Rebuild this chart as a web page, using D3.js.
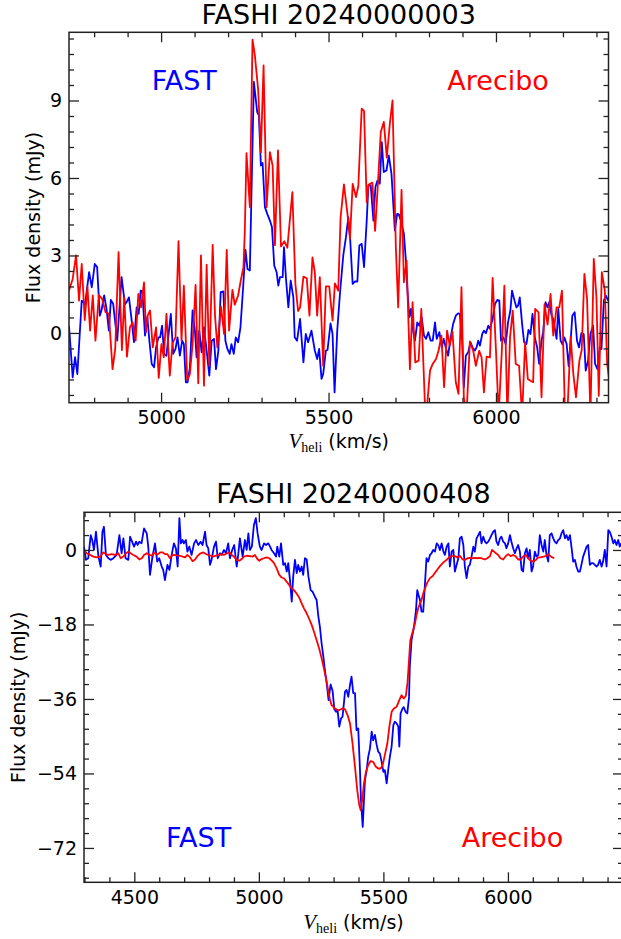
<!DOCTYPE html>
<html>
<head>
<meta charset="utf-8">
<script src="https://cdn.jsdelivr.net/npm/d3@7"></script>
<style>
  body { margin: 0; background: #fff; }
  svg text { font-family: "DejaVu Sans", sans-serif; }
</style>
</head>
<body>
<svg id="fig" width="621" height="939"></svg>
<script>
// FASHI 20240000003 : [velocity km/s, flux mJy]
var fast003 = [[4725,0.28],[4736,-1.72],[4743,-0.94],[4750,-1.59],[4763,1.25],[4773,1.12],[4785,2.35],[4793,1.77],[4802,2.67],[4809,2.55],[4817,0.67],[4822,0.87],[4830,1.45],[4837,0.93],[4844,0.09],[4850,1.28],[4857,1.12],[4869,-0.30],[4882,2.16],[4892,1.12],[4897,1.19],[4904,1.38],[4911,0.61],[4919,-0.36],[4927,0.99],[4933,0.74],[4939,1.64],[4944,1.61],[4952,-0.10],[4959,0.61],[4965,-0.30],[4972,-1.20],[4979,-1.33],[4985,-0.56],[4992,-0.17],[4997,-0.17],[5003,0.28],[5009,-0.81],[5016,-0.88],[5023,0.03],[5029,0.74],[5036,-0.81],[5043,-0.62],[5049,-0.17],[5056,-0.88],[5063,-0.30],[5068,-0.43],[5074,-1.91],[5079,-1.91],[5086,-1.33],[5094,0.87],[5101,0.09],[5106,-0.94],[5114,0.09],[5121,-0.75],[5128,0.22],[5136,-0.68],[5144,-1.65],[5151,-0.30],[5158,-0.23],[5164,-1.40],[5171,-0.68],[5178,1.58],[5186,1.61],[5192,-0.30],[5198,-0.62],[5205,-0.81],[5210,-0.43],[5217,-0.81],[5223,-0.17],[5230,-0.36],[5237,0.22],[5245,1.77],[5252,3.22],[5258,2.48],[5265,2.42],[5277,9.72],[5287,8.55],[5292,8.42],[5298,6.48],[5303,6.58],[5310,4.87],[5317,4.61],[5325,4.35],[5331,4.10],[5338,2.60],[5345,2.35],[5350,1.83],[5355,2.16],[5363,2.16],[5367,3.32],[5373,2.09],[5380,0.99],[5387,2.03],[5395,1.38],[5399,-0.17],[5406,-0.30],[5415,0.54],[5425,-1.14],[5432,-0.04],[5439,-0.36],[5449,0.09],[5459,-0.68],[5466,-1.01],[5472,-0.62],[5479,-1.78],[5484,-1.59],[5492,-0.68],[5497,-0.66],[5506,0.37],[5512,-0.04],[5518,-2.30],[5526,0.09],[5534,1.51],[5544,3.00],[5552,3.71],[5559,4.48],[5564,3.77],[5572,1.90],[5579,2.00],[5586,1.99],[5592,3.39],[5599,3.45],[5606,2.55],[5614,4.35],[5619,5.71],[5626,5.71],[5634,4.35],[5640,5.65],[5646,5.90],[5653,5.78],[5659,7.39],[5665,6.23],[5673,6.29],[5680,6.87],[5688,6.16],[5698,3.97],[5705,4.61],[5710,4.59],[5716,4.35],[5725,3.84],[5731,2.80],[5735,1.77],[5741,0.61],[5746,0.93],[5753,0.03],[5758,-0.30],[5765,0.41],[5771,0.28],[5778,0.61],[5785,-0.10],[5791,-0.23],[5798,0.03],[5805,-0.30],[5811,-0.30],[5818,0.41],[5823,-0.23],[5831,0.03],[5838,-0.56],[5844,-0.23],[5850,-0.56],[5857,-0.88],[5864,-0.23],[5872,0.35],[5880,0.67],[5887,0.76],[5892,0.74],[5899,-0.30],[5904,-2.11],[5910,-0.88],[5917,-0.75],[5924,-0.36],[5930,-0.56],[5937,-0.68],[5942,-0.56],[5947,-0.30],[5952,-0.49],[5959,-0.04],[5964,0.09],[5970,-0.01],[5977,0.28],[5982,0.16],[5990,0.54],[5997,1.12],[6004,1.28],[6010,1.25],[6015,-0.30],[6022,-0.17],[6029,-0.43],[6036,0.41],[6043,0.87],[6048,1.64],[6054,1.32],[6061,0.99],[6066,1.06],[6071,1.38],[6078,0.35],[6084,-0.36],[6091,-0.43],[6097,0.12],[6103,-0.04],[6109,0.74],[6116,-0.17],[6123,-0.56],[6129,-1.20],[6136,-0.30],[6141,0.03],[6148,1.19],[6154,0.99],[6159,1.19],[6166,0.67],[6171,0.54],[6176,0.16],[6181,-0.23],[6186,0.93],[6193,-0.30],[6199,-0.45],[6204,-0.17],[6211,-0.43],[6217,-1.29],[6223,-0.30],[6228,0.67],[6235,0.80],[6242,-0.30],[6248,-0.56],[6255,-0.01],[6262,-0.04],[6268,-1.46],[6275,-1.07],[6282,-0.04],[6290,0.28],[6296,-1.20],[6303,-1.40],[6310,-0.56],[6315,-0.62],[6322,1.25],[6328,1.45],[6335,1.25]];

var arecibo003 = [[4725,1.64],[4736,2.09],[4746,3.00],[4755,1.25],[4763,2.67],[4772,0.50],[4780,1.80],[4788,0.09],[4796,1.45],[4804,-0.30],[4814,1.47],[4824,1.32],[4834,0.80],[4844,0.74],[4855,-1.40],[4863,-0.62],[4873,3.13],[4883,-0.66],[4890,1.38],[4898,-0.92],[4907,0.22],[4915,0.41],[4924,-0.30],[4932,1.51],[4940,0.99],[4949,1.96],[4955,0.03],[4960,0.67],[4967,0.87],[4975,-0.56],[4985,0.22],[4993,-1.74],[5001,-0.43],[5008,-0.94],[5016,0.74],[5026,-1.65],[5034,-0.40],[5043,-0.17],[5052,3.55],[5061,-0.30],[5068,1.83],[5078,-1.82],[5086,-1.59],[5094,-0.43],[5103,1.86],[5111,-1.95],[5119,3.00],[5128,-2.04],[5136,2.64],[5144,-1.27],[5154,3.41],[5161,0.67],[5168,-0.56],[5179,1.02],[5188,-0.04],[5196,3.22],[5203,0.09],[5213,1.67],[5220,1.09],[5230,1.45],[5238,2.03],[5246,2.55],[5250,3.96],[5255,6.96],[5265,4.87],[5273,11.36],[5280,10.75],[5290,9.39],[5298,7.00],[5306,10.36],[5315,4.87],[5325,7.00],[5333,6.48],[5340,3.40],[5349,7.07],[5358,3.35],[5368,3.55],[5377,3.30],[5392,5.45],[5401,1.90],[5409,0.85],[5415,0.99],[5425,2.18],[5435,2.12],[5443,0.67],[5452,2.93],[5459,2.35],[5466,0.67],[5474,2.16],[5484,-1.27],[5492,1.80],[5502,1.80],[5512,0.48],[5519,1.92],[5529,1.64],[5536,4.48],[5546,5.75],[5556,4.67],[5564,3.64],[5572,5.77],[5582,5.26],[5589,5.70],[5599,8.68],[5606,8.60],[5614,5.06],[5620,5.75],[5631,5.82],[5639,3.95],[5648,5.90],[5656,7.78],[5665,8.17],[5674,6.79],[5683,8.10],[5691,9.00],[5701,3.30],[5708,0.99],[5718,5.54],[5725,1.96],[5733,2.80],[5743,-1.40],[5751,1.19],[5759,-1.14],[5769,-1.07],[5777,0.93],[5790,-3.50],[5803,-1.46],[5811,-1.20],[5821,-1.01],[5829,-0.66],[5837,-0.10],[5845,-2.10],[5854,0.09],[5862,-0.49],[5870,0.05],[5880,-1.91],[5888,-2.36],[5897,1.77],[5904,-2.49],[5912,-3.20],[5922,-0.33],[5932,-0.69],[5940,-1.27],[5950,-0.69],[5957,-0.95],[5964,-2.30],[5972,-0.92],[5982,-0.95],[5990,2.13],[6000,-0.69],[6008,-3.20],[6017,-0.82],[6025,1.83],[6034,-3.20],[6042,-0.17],[6050,0.86],[6059,-1.20],[6069,-1.27],[6078,-3.20],[6087,-0.36],[6095,-1.78],[6103,-1.85],[6111,-1.91],[6117,0.93],[6127,0.80],[6136,-2.49],[6145,1.12],[6154,0.32],[6163,1.51],[6171,-0.10],[6181,0.99],[6189,0.99],[6197,1.64],[6206,-3.20],[6213,-3.20],[6223,-0.15],[6231,-1.59],[6239,-2.49],[6249,-1.07],[6256,-0.66],[6264,2.29],[6272,1.32],[6282,-3.20],[6292,2.87],[6300,1.38],[6307,-2.43],[6316,2.35],[6325,1.64],[6332,-1.20],[6340,-2.00]];

// FASHI 20240000408 : [velocity km/s, flux mJy]
var fast408 = [[4298,0.8],[4306,-2.4],[4315,-2.0],[4325,3.6],[4331,2.4],[4338,0],[4346,4.4],[4356,-1.6],[4365,-4.0],[4372,4.4],[4378,5.6],[4386,-1.2],[4396,-2.0],[4405,-2.4],[4416,-2.0],[4429,-1.2],[4440,3.6],[4449,-0.8],[4456,2.8],[4465,-2.0],[4476,-2.4],[4483,3.2],[4491,2.0],[4499,0.8],[4507,2.0],[4513,1.2],[4520,2.0],[4529,1.6],[4539,5.2],[4550,4.0],[4556,0.8],[4563,-6.0],[4572,-2.0],[4583,1.6],[4592,-2.8],[4600,-2.0],[4610,-4.0],[4616,-4.8],[4623,-7.3],[4633,-3.6],[4641,-4.8],[4650,-1.2],[4659,1.6],[4667,0.4],[4674,-4.0],[4681,7.7],[4687,1.6],[4694,2.4],[4699,1.6],[4707,2.4],[4713,-0.4],[4721,0.8],[4730,-1.2],[4740,1.6],[4748,2.4],[4757,1.2],[4766,2.0],[4774,1.2],[4784,4.4],[4790,1.2],[4797,0.4],[4804,-3.6],[4810,-2.4],[4820,0.8],[4828,2.0],[4835,-2.0],[4844,-0.8],[4851,-1.2],[4860,0],[4868,-0.8],[4877,1.6],[4884,-2.0],[4893,0],[4901,1.2],[4911,-4.0],[4917,-1.2],[4924,2.8],[4935,-1.6],[4944,2.4],[4951,0],[4958,4.0],[4964,0],[4972,0.8],[4980,6.0],[4988,7.7],[4995,4.0],[5004,0.8],[5011,0],[5021,1.6],[5029,1.2],[5038,1.6],[5045,0.8],[5051,0],[5061,-0.8],[5069,-1.6],[5074,0.8],[5082,-1.6],[5089,1.6],[5098,-3.6],[5105,-3.2],[5112,-5.2],[5118,-3.2],[5125,-7.3],[5132,-12.5],[5138,-6.4],[5145,-2.4],[5152,-5.6],[5158,-3.6],[5165,-5.2],[5172,-4.0],[5178,-6.0],[5185,-2.0],[5192,-2.3],[5199,-6.4],[5208,-9.7],[5216,-10.1],[5225,-11.3],[5232,-12.1],[5239,-16.1],[5245,-18.5],[5252,-22.6],[5259,-25.8],[5265,-29.0],[5272,-32.0],[5280,-36.3],[5288,-32.5],[5296,-34.0],[5303,-38.5],[5310,-39.1],[5316,-38.7],[5323,-42.7],[5330,-40.7],[5336,-40.3],[5342,-36.7],[5346,-34.2],[5352,-33.8],[5359,-35.5],[5366,-32.6],[5372,-30.6],[5379,-34.6],[5386,-34.6],[5392,-43.5],[5399,-43.1],[5406,-53.2],[5410,-60.4],[5417,-66.9],[5422,-60.4],[5426,-55.6],[5433,-53.2],[5439,-50.0],[5446,-48.0],[5453,-43.9],[5459,-46.0],[5466,-44.7],[5473,-47.1],[5479,-48.7],[5486,-49.2],[5493,-51.2],[5500,-53.6],[5506,-53.2],[5513,-56.4],[5520,-52.8],[5526,-50.0],[5533,-47.5],[5540,-42.3],[5546,-41.5],[5553,-41.9],[5560,-42.7],[5564,-47.5],[5569,-39.5],[5577,-38.3],[5582,-38.0],[5589,-39.1],[5596,-39.5],[5603,-35.5],[5606,-28.2],[5613,-21.8],[5623,-18.5],[5631,-14.5],[5636,-9.7],[5641,-10.9],[5647,-12.1],[5653,-14.9],[5660,-14.9],[5667,-8.1],[5673,-2.0],[5680,-2.8],[5687,-1.2],[5693,-0.8],[5700,0],[5707,-0.4],[5714,1.6],[5720,1.2],[5727,0],[5734,1.6],[5741,-0.4],[5747,-1.2],[5754,0.8],[5761,1.6],[5767,-4.0],[5774,-0.4],[5781,0],[5787,-5.2],[5794,-3.6],[5801,-2.0],[5807,2.8],[5814,3.2],[5821,1.2],[5827,-4.0],[5834,-6.8],[5841,-4.0],[5847,-3.6],[5854,-1.6],[5861,0.8],[5867,-0.4],[5874,2.8],[5881,3.6],[5888,4.4],[5894,1.6],[5901,3.2],[5908,2.0],[5914,1.6],[5921,2.0],[5928,2.8],[5934,3.6],[5941,4.4],[5948,4.8],[5954,2.0],[5961,1.2],[5968,2.8],[5974,3.2],[5981,2.0],[5988,1.6],[5994,0.4],[6001,1.6],[6008,3.6],[6014,2.0],[6021,0.4],[6028,-0.8],[6035,0.4],[6041,1.2],[6048,-0.4],[6055,-4.8],[6061,-5.2],[6068,-0.8],[6075,0.4],[6081,-2.0],[6088,0],[6095,-5.2],[6101,-4.0],[6108,-0.4],[6115,-1.6],[6122,-1.2],[6128,3.6],[6135,1.2],[6142,-0.4],[6148,2.4],[6155,-1.2],[6162,-2.8],[6168,3.6],[6175,4.0],[6182,2.8],[6188,2.0],[6195,1.6],[6202,2.4],[6209,2.8],[6215,4.0],[6222,4.8],[6229,2.8],[6235,3.6],[6242,2.4],[6249,3.6],[6255,0.8],[6262,-2.8],[6269,-2.4],[6275,-4.0],[6282,-5.2],[6289,-5.2],[6295,-3.6],[6302,-1.6],[6309,-0.4],[6316,0.8],[6322,1.2],[6329,-3.6],[6336,-3.2],[6342,-3.2],[6349,-3.6],[6356,-4.0],[6362,-3.6],[6369,-2.4],[6376,-4.0],[6382,-2.8],[6389,0],[6396,-4.0],[6403,4.8],[6409,4.4],[6416,3.2],[6423,1.6],[6429,2.4],[6436,1.2],[6443,2.4],[6449,0.8],[6455,1.6],[6465,1.0]];

var arecibo408 = [[4298,0],[4309,-0.8],[4322,-1.2],[4336,-1.6],[4349,-1.8],[4362,-1.6],[4376,-0.6],[4386,-1.0],[4396,-1.2],[4409,-1.0],[4422,-1.2],[4436,-0.8],[4445,-2.0],[4456,-1.6],[4467,-0.8],[4476,-0.4],[4485,-0.8],[4496,-1.2],[4509,-1.6],[4520,-2.3],[4530,-2.0],[4539,-1.2],[4550,-0.8],[4560,-1.2],[4570,-1.4],[4576,-0.8],[4584,-0.8],[4592,-1.2],[4603,-0.6],[4614,-0.6],[4623,-1.0],[4633,-1.0],[4643,-2.0],[4650,-1.4],[4659,-1.2],[4670,-1.3],[4683,-1.4],[4694,-1.6],[4704,-1.8],[4713,-1.2],[4724,-1.8],[4734,-2.7],[4744,-2.3],[4753,-1.5],[4766,-0.8],[4777,-0.6],[4788,-1.0],[4797,-1.2],[4807,-1.4],[4817,-1.6],[4830,-1.3],[4841,-1.2],[4850,-1.0],[4860,-1.2],[4871,-0.8],[4882,-0.6],[4891,-1.2],[4900,-1.6],[4911,-2.4],[4922,-2.6],[4931,-2.2],[4940,-1.6],[4951,-1.4],[4964,-1.5],[4975,-1.6],[4984,-1.2],[4994,-2.2],[5002,-2.6],[5011,-2.2],[5020,-2.0],[5031,-1.8],[5042,-2.0],[5052,-2.6],[5061,-3.2],[5071,-4.4],[5082,-6.0],[5091,-6.6],[5101,-6.9],[5112,-7.7],[5122,-8.5],[5132,-9.3],[5141,-9.7],[5152,-10.6],[5162,-11.5],[5172,-12.9],[5181,-14.1],[5192,-15.3],[5203,-16.8],[5212,-18.1],[5221,-19.7],[5232,-21.8],[5243,-24.0],[5252,-26.2],[5261,-28.6],[5272,-31.8],[5279,-34.2],[5285,-36.0],[5292,-37.5],[5306,-38.3],[5319,-38.8],[5336,-38.3],[5346,-38.5],[5356,-39.9],[5366,-41.9],[5376,-46.7],[5386,-52.4],[5395,-58.0],[5403,-61.6],[5409,-62.9],[5415,-60.4],[5422,-56.4],[5430,-53.6],[5439,-52.0],[5449,-51.0],[5459,-51.2],[5470,-52.4],[5479,-52.8],[5489,-52.8],[5497,-52.0],[5506,-49.5],[5516,-46.7],[5524,-42.7],[5533,-39.1],[5542,-38.3],[5553,-37.9],[5564,-36.3],[5573,-35.1],[5582,-35.9],[5590,-35.3],[5597,-32.0],[5603,-26.5],[5608,-21.8],[5615,-20.3],[5620,-19.3],[5627,-17.7],[5633,-15.7],[5640,-14.1],[5647,-12.9],[5653,-12.1],[5660,-10.5],[5667,-9.3],[5676,-7.9],[5687,-6.8],[5698,-6.3],[5707,-5.5],[5716,-4.8],[5727,-3.9],[5738,-3.2],[5747,-2.7],[5756,-2.3],[5767,-1.6],[5778,-1.5],[5787,-1.5],[5797,-1.8],[5807,-1.4],[5818,-2.3],[5827,-2.4],[5838,-2.0],[5847,-1.9],[5858,-2.0],[5868,-1.9],[5877,-2.0],[5888,-1.9],[5898,-2.1],[5908,-2.3],[5917,-2.0],[5928,-1.5],[5936,0],[5944,-0.4],[5952,-0.8],[5961,-1.2],[5970,-2.0],[5981,-2.3],[5991,-1.5],[6001,-1.0],[6011,-1.5],[6021,-1.2],[6032,-1.6],[6041,-2.3],[6051,-2.3],[6061,-1.6],[6072,-1.2],[6081,-2.0],[6091,-2.6],[6102,-2.8],[6112,-2.4],[6122,-1.8],[6131,-1.8],[6142,-1.6],[6152,-1.5],[6162,-1.0],[6171,-1.5],[6179,-1.8],[6186,-2.0]];

// ticks
var xMajor003 = [5000, 5500, 6000];
var yMajor003 = [0, 3, 6, 9];
var xMajor408 = [4500, 5000, 5500, 6000];
var yMajor408 = [0, -18, -36, -54, -72];

var svg = d3.select("#fig");

var panels = [
  { id: "p003", title: "FASHI 20240000003", fast: fast003, arecibo: arecibo003,
    xDomain: [4725, 6336], yDomain: [-2.7, 11.64], xMajor: xMajor003, yMajor: yMajor003,
    xMinorStep: 100, yMinorStep: 0.6,
    left: 69, right: 608.5, top: 32.3, bottom: 402.7,
    titleY: 24, labelY: 90, fastX: 151.7, areciboX: 447.3, ylabX: 39.5, xlabY: 448 },
  { id: "p408", title: "FASHI 20240000408", fast: fast408, arecibo: arecibo408,
    xDomain: [4298, 6462], yDomain: [-80.3, 9.1], xMajor: xMajor408, yMajor: yMajor408,
    xMinorStep: 100, yMinorStep: 3.6,
    left: 84, right: 623, top: 512.3, bottom: 882.3,
    titleY: 503, labelY: 847.3, fastX: 166, areciboX: 461.7, ylabX: 25, xlabY: 929 }
];

var fmt = function (d) { return d < 0 ? "\u2212" + Math.abs(d) : String(d); };

function minorTicks(domain, step, major) {
  var lo = Math.ceil(domain[0] / step - 1e-6), hi = Math.floor(domain[1] / step + 1e-6);
  var out = [];
  for (var i = lo; i <= hi; i++) {
    var v = +(i * step).toFixed(4);
    var isMajor = major.some(function (m) { return Math.abs(m - v) < 1e-6; });
    if (!isMajor) out.push(v);
  }
  return out;
}

panels.forEach(function (p) {
  var x = d3.scaleLinear().domain(p.xDomain).range([p.left, p.right]);
  var y = d3.scaleLinear().domain(p.yDomain).range([p.bottom, p.top]);
  var g = svg.append("g");

  g.append("clipPath").attr("id", "clip-" + p.id)
    .append("rect").attr("x", p.left).attr("y", p.top)
    .attr("width", p.right - p.left).attr("height", p.bottom - p.top);

  var line = d3.line().x(function (d) { return x(d[0]); }).y(function (d) { return y(d[1]); });
  var plot = g.append("g").attr("clip-path", "url(#clip-" + p.id + ")");
  plot.append("path").datum(p.fast).attr("d", line)
    .attr("fill", "none").attr("stroke", "#0000ff").attr("stroke-width", 1.8)
    .attr("stroke-linejoin", "round");
  plot.append("path").datum(p.arecibo).attr("d", line)
    .attr("fill", "none").attr("stroke", "#ff0000").attr("stroke-width", 1.8)
    .attr("stroke-linejoin", "round");

  // frame
  g.append("rect").attr("x", p.left).attr("y", p.top)
    .attr("width", p.right - p.left).attr("height", p.bottom - p.top)
    .attr("fill", "none").attr("stroke", "#222").attr("stroke-width", 1.5);

  var xMinor = minorTicks(p.xDomain, p.xMinorStep, p.xMajor);
  var yMinor = minorTicks(p.yDomain, p.yMinorStep, p.yMajor);

  function styleAxis(sel) {
    sel.select(".domain").remove();
    sel.selectAll(".tick line").attr("stroke", "#222").attr("stroke-width", 1.3);
    sel.selectAll(".tick text").attr("fill", "#000")
      .style("font-family", "DejaVu Sans").style("font-size", "19px");
  }

  // bottom
  g.append("g").attr("transform", "translate(0," + p.bottom + ")")
    .call(d3.axisBottom(x).tickValues(p.xMajor).tickSize(-10).tickPadding(8).tickFormat(fmt)).call(styleAxis);
  g.append("g").attr("transform", "translate(0," + p.bottom + ")")
    .call(d3.axisBottom(x).tickValues(xMinor).tickSize(-5).tickFormat("")).call(styleAxis);
  // top
  g.append("g").attr("transform", "translate(0," + p.top + ")")
    .call(d3.axisTop(x).tickValues(p.xMajor).tickSize(-10).tickFormat("")).call(styleAxis);
  g.append("g").attr("transform", "translate(0," + p.top + ")")
    .call(d3.axisTop(x).tickValues(xMinor).tickSize(-5).tickFormat("")).call(styleAxis);
  // left
  g.append("g").attr("transform", "translate(" + p.left + ",0)")
    .call(d3.axisLeft(y).tickValues(p.yMajor).tickSize(-10).tickPadding(7).tickFormat(fmt)).call(styleAxis);
  g.append("g").attr("transform", "translate(" + p.left + ",0)")
    .call(d3.axisLeft(y).tickValues(yMinor).tickSize(-5).tickFormat("")).call(styleAxis);
  // right
  g.append("g").attr("transform", "translate(" + p.right + ",0)")
    .call(d3.axisRight(y).tickValues(p.yMajor).tickSize(-10).tickFormat("")).call(styleAxis);
  g.append("g").attr("transform", "translate(" + p.right + ",0)")
    .call(d3.axisRight(y).tickValues(yMinor).tickSize(-5).tickFormat("")).call(styleAxis);

  // title
  g.append("text").attr("x", (p.left + p.right) / 2).attr("y", p.titleY)
    .attr("text-anchor", "middle").style("font-size", "27px").attr("fill", "#000")
    .text(p.title);

  // in-plot labels
  g.append("text").attr("x", p.fastX).attr("y", p.labelY)
    .style("font-size", "27px").attr("fill", "#0000ff").text("FAST");
  g.append("text").attr("x", p.areciboX).attr("y", p.labelY)
    .style("font-size", "27px").attr("fill", "#ff0000").text("Arecibo");

  // y label
  g.append("text")
    .attr("transform", "translate(" + p.ylabX + "," + ((p.top + p.bottom) / 2) + ") rotate(-90)")
    .attr("text-anchor", "middle").style("font-size", "19px").attr("fill", "#000")
    .text("Flux density (mJy)");

  // x label: V_heli (km/s)
  var xl = g.append("text").attr("x", (p.left + p.right) / 2).attr("y", p.xlabY)
    .attr("text-anchor", "middle").attr("fill", "#000");
  xl.append("tspan").style("font-family", "Liberation Serif").style("font-style", "italic")
    .style("font-size", "21px").text("V");
  xl.append("tspan").style("font-family", "Liberation Serif").style("font-size", "14px")
    .attr("dy", 4).text("heli");
  xl.append("tspan").style("font-size", "19px").attr("dy", -4).text(" (km/s)");
});
</script>
</body>
</html>
